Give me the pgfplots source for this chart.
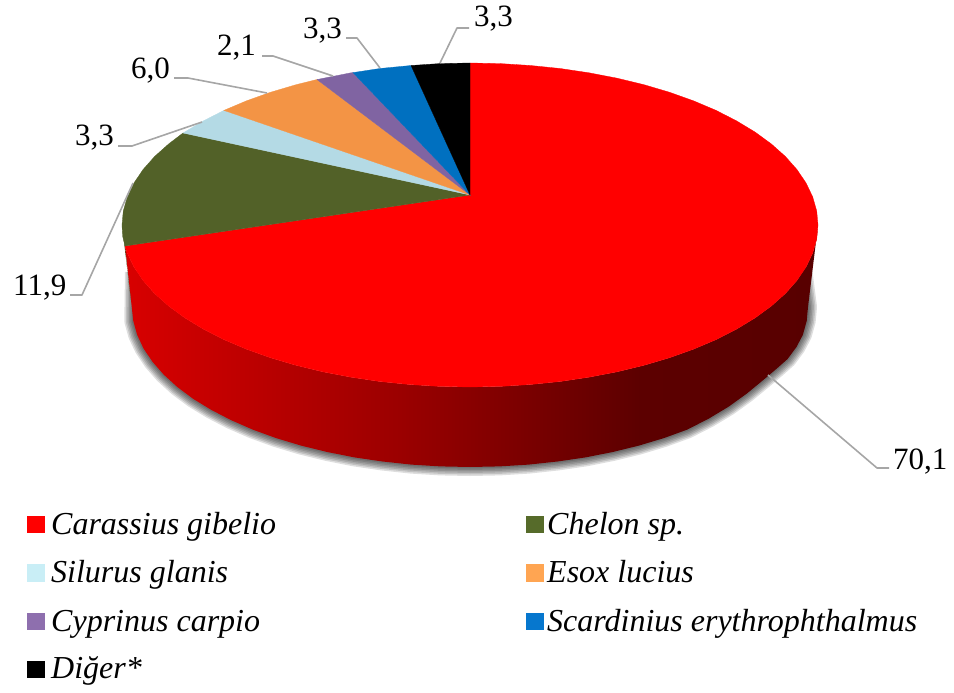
\documentclass[border=0pt]{standalone}
\usepackage{pgfplots}
\pgfplotsset{compat=1.18}
\usepackage{pgfplotstable}
\usepackage{fontspec}
\setmainfont{Liberation Serif}
\definecolor{cRed}{HTML}{FF0000}
\definecolor{cGreen}{HTML}{526128}
\definecolor{cLight}{HTML}{B4DAE5}
\definecolor{cOrange}{HTML}{F39445}
\definecolor{cPurple}{HTML}{8064A2}
\definecolor{cBlue}{HTML}{0070C0}
\definecolor{lRed}{HTML}{FF0000}
\definecolor{lGreen}{HTML}{566B2A}
\definecolor{lLight}{HTML}{C9EEF6}
\definecolor{lOrange}{HTML}{FFA552}
\definecolor{lPurple}{HTML}{8E6FAE}
\definecolor{lBlue}{HTML}{0677CE}
\definecolor{lead}{HTML}{A6A6A6}
\definecolor{sA}{RGB}{216,0,0}
\definecolor{sB}{RGB}{155,0,0}
\definecolor{sC}{RGB}{92,0,0}
\definecolor{sD}{RGB}{88,0,0}
\pgfdeclarehorizontalshading{sideshade}{100bp}{%
 color(0bp)=(sA);
 color(25bp)=(sA);
 color(44.8bp)=(sB);
 color(62.2bp)=(sC);
 color(75bp)=(sD);
 color(100bp)=(sD)}
\pgfplotstableread{
x y
134 272
133.3 321
137.1 334.8
143.5 348.4
152.4 361.7
163.7 374.6
177.3 387
193.1 398.8
211.1 409.8
231 420.1
252.7 429.6
276.1 438.1
301 445.6
327.2 452
354.4 457.4
382.5 461.5
411.3 464.6
440.5 466.4
470 467
499.5 466.4
528.7 464.6
557.5 461.5
585.6 457.4
612.8 452
639 445.6
663.9 438.1
687.3 429.6
709 418.5
728.9 406.5
746.9 393.5
762.7 380.5
776.3 369
787.6 359
796.5 347
802.9 334.8
806.7 321
808 307
803 268
}\shadowtab
\tikzset{lab/.style={anchor=base west,font=\fontsize{31}{31}\selectfont,inner sep=0pt,text=black},
 leg/.style={anchor=base west,font=\fontsize{32}{32}\selectfont\itshape,inner sep=0pt,text=black},
 ldr/.style={draw=lead,line width=1.6pt,no markers,line join=round},
 shd/.style={draw=black,opacity=0.13,no markers,line join=round}}
\begin{document}
\begin{tikzpicture}
\useasboundingbox (0,0) rectangle (954pt,693pt);
\begin{axis}[scale only axis,width=954pt,height=693pt,xmin=0,xmax=954,ymin=0,ymax=693,y dir=reverse,hide axis,clip=false]
% shadow
\addplot[shd,line width=18pt] table {\shadowtab};
\addplot[shd,line width=15pt] table {\shadowtab};
\addplot[shd,line width=12pt] table {\shadowtab};
\addplot[shd,line width=9pt] table {\shadowtab};
\addplot[shd,line width=6pt] table {\shadowtab};
\addplot[shd,line width=3pt] table {\shadowtab};
% side wall
\addplot[shade,shading=sideshade,draw=none,no markers] coordinates {
(818,225)(816.7,239.1)(812.7,253.1)(806.1,266.9)(797,280.4)(785.4,293.5)(771.4,306)(755.1,317.9)(736.6,329.1)(716.1,339.6)(693.7,349.1)(669.6,357.7)(644,365.3)(617.1,371.8)(589,377.2)(560.1,381.5)(530.4,384.5)(500.3,386.4)(470,387)(439.7,386.4)(409.6,384.5)(379.9,381.5)(351,377.2)(322.9,371.8)(296,365.3)(270.4,357.7)(246.3,349.1)(223.9,339.6)(203.4,329.1)(184.9,317.9)(168.6,306)(154.6,293.5)(143,280.4)(133.9,266.9)(127.3,253.1)(125,246)
(133.3,321)(137.1,334.8)(143.5,348.4)(152.4,361.7)(163.7,374.6)(177.3,387)(193.1,398.8)(211.1,409.8)(231,420.1)(252.7,429.6)(276.1,438.1)(301,445.6)(327.2,452)(354.4,457.4)(382.5,461.5)(411.3,464.6)(440.5,466.4)(470,467)(499.5,466.4)(528.7,464.6)(557.5,461.5)(585.6,457.4)(612.8,452)(639,445.6)(663.9,438.1)(687.3,429.6)(709,418.5)(728.9,406.5)(746.9,393.5)(762.7,380.5)(776.3,369)(787.6,359)(796.5,347)(802.9,334.8)(806.7,321)(808,307)
} -- cycle;
% olive sliver of the wall
\addplot[fill=cGreen!85!black,draw=none,no markers] coordinates {(123.5,238)(125,246)(129,285)(131,300)} -- cycle;
% top face: Carassius gibelio 70,1
\addplot[fill=cRed,draw=cRed,line width=0.3pt,no markers] coordinates {
(470,195)(470,63)(500.3,63.6)(530.4,65.5)(560.1,68.5)(589,72.8)(617.1,78.2)(644,84.7)(669.6,92.3)(693.7,100.9)(716.1,110.4)(736.6,120.9)(755.1,132.1)(771.4,144)(785.4,156.5)(797,169.6)(806.1,183.1)(812.7,196.9)(816.7,210.9)(818,225)
(816.7,239.1)(812.7,253.1)(806.1,266.9)(797,280.4)(785.4,293.5)(771.4,306)(755.1,317.9)(736.6,329.1)(716.1,339.6)(693.7,349.1)(669.6,357.7)(644,365.3)(617.1,371.8)(589,377.2)(560.1,381.5)(530.4,384.5)(500.3,386.4)(470,387)(439.7,386.4)(409.6,384.5)(379.9,381.5)(351,377.2)(322.9,371.8)(296,365.3)(270.4,357.7)(246.3,349.1)(223.9,339.6)(203.4,329.1)(184.9,317.9)(168.6,306)(154.6,293.5)(143,280.4)(133.9,266.9)(127.3,253.1)(125,246)
} -- cycle;
% Chelon sp. 11,9
\addplot[fill=cGreen,draw=cGreen,line width=0.3pt,no markers] coordinates {
(470,195)(125,246)(122.6,236)(122,225)(123.3,210.9)(127.3,196.9)(133.9,183.1)(143,169.6)(154.6,156.5)(168.6,144)(183,133)
} -- cycle;
% Silurus glanis 3,3
\addplot[fill=cLight,draw=cLight,line width=0.3pt,no markers] coordinates {
(470,195)(183,133)(203.4,120.9)(223.9,110.4)
} -- cycle;
% Esox lucius 6,0
\addplot[fill=cOrange,draw=cOrange,line width=0.3pt,no markers] coordinates {
(470,195)(223.9,110.4)(246.3,100.9)(270.4,92.3)(296,84.7)(317,79.5)
} -- cycle;
% Cyprinus carpio 2,1
\addplot[fill=cPurple,draw=cPurple,line width=0.3pt,no markers] coordinates {
(470,195)(317,79.5)(351,72.8)(353,72.6)
} -- cycle;
% Scardinius 3,3
\addplot[fill=cBlue,draw=cBlue,line width=0.3pt,no markers] coordinates {
(470,195)(353,72.6)(379.9,68.5)(411,65.5)
} -- cycle;
% Diger 3,3
\addplot[fill=black,draw=black,line width=0.3pt,no markers] coordinates {
(470,195)(411,65.5)(439.7,63.6)(470,63)
} -- cycle;
% leader lines
\addplot[ldr] coordinates {(768,375)(877,468)(889,468)};
\addplot[ldr] coordinates {(133,183)(82,295)(70,295)};
\addplot[ldr] coordinates {(202,122)(132,146)(118,146)};
\addplot[ldr] coordinates {(267,93)(188,78)(174,78)};
\addplot[ldr] coordinates {(333,76)(273,56)(262,56)};
\addplot[ldr] coordinates {(380,68)(357,38)(346,38)};
\addplot[ldr] coordinates {(440,63)(457,28)(469,28)};
% value labels
\node[lab] at (axis cs:893,469.5) {70,1};
\node[lab] at (axis cs:13,295) {11,9};
\node[lab] at (axis cs:75,146) {3,3};
\node[lab] at (axis cs:131,78) {6,0};
\node[lab] at (axis cs:217,56) {2,1};
\node[lab] at (axis cs:303,39) {3,3};
\node[lab] at (axis cs:474,27) {3,3};
% legend swatches
\addplot[fill=lRed,draw=none,no markers] coordinates {(27,516)(45,516)(45,533)(27,533)} -- cycle;
\addplot[fill=lGreen,draw=none,no markers] coordinates {(526,516)(544,516)(544,533)(526,533)} -- cycle;
\addplot[fill=lLight,draw=none,no markers] coordinates {(27,564)(45,564)(45,582)(27,582)} -- cycle;
\addplot[fill=lOrange,draw=none,no markers] coordinates {(526,564)(544,564)(544,582)(526,582)} -- cycle;
\addplot[fill=lPurple,draw=none,no markers] coordinates {(27,613)(45,613)(45,630)(27,630)} -- cycle;
\addplot[fill=lBlue,draw=none,no markers] coordinates {(526,613)(544,613)(544,630)(526,630)} -- cycle;
\addplot[fill=black,draw=none,no markers] coordinates {(27,661)(45,661)(45,678)(27,678)} -- cycle;
\node[leg] at (axis cs:51,534) {Carassius gibelio};
\node[leg] at (axis cs:547,534) {Chelon sp.};
\node[leg] at (axis cs:51,582) {Silurus glanis};
\node[leg] at (axis cs:547,582) {Esox lucius};
\node[leg] at (axis cs:51,631) {Cyprinus carpio};
\node[leg] at (axis cs:547,631) {Scardinius erythrophthalmus};
\node[leg] at (axis cs:51,678) {Diğer*};
\end{axis}
\end{tikzpicture}
\end{document}
